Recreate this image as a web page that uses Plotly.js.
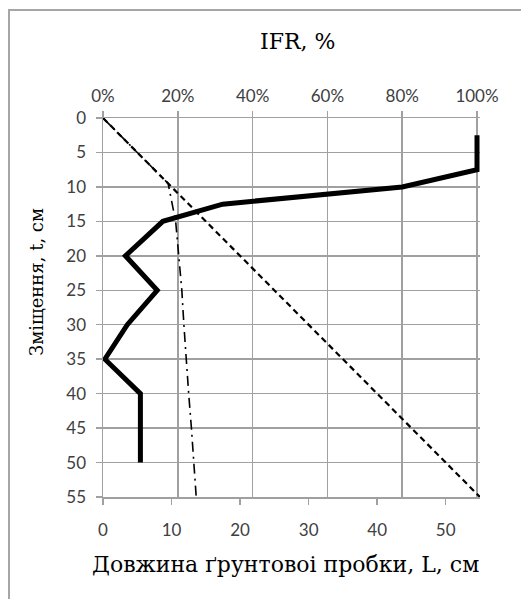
<!DOCTYPE html>
<html>
<head>
<meta charset="utf-8">
<script src="https://cdn.plot.ly/plotly-3.0.1.min.js"></script>
<style>
html,body{margin:0;padding:0;background:#fff;}
#frame{position:absolute;left:8px;top:9px;width:530px;height:600px;border-left:2px solid #a6a6a6;border-top:2px solid #a6a6a6;}
#chart{position:absolute;left:0;top:0;width:521px;height:599px;}
</style>
</head>
<body>
<div id="frame"></div>
<div id="chart"></div>
<script>
// IFR series (top axis, fraction)
const ifrT = [2.5, 5, 7.5, 10, 12.5, 15, 20, 25, 30, 35, 40, 45, 50];
const ifrVal = [1.00, 1.00, 1.00, 0.80, 0.32, 0.16, 0.06, 0.145, 0.065, 0.005, 0.10, 0.10, 0.10];
// Soil plug length L vs displacement t (bottom axis)
const plugT = [0, 5, 9.5, 15, 20, 25, 30, 35, 40, 45, 50, 55];
const plugL = [0, 5, 9.5, 10.6, 11.1, 11.5, 11.8, 12.1, 12.5, 12.9, 13.3, 13.6];
// Full plugging reference line L = t
const refT = [0, 55];
const refL = [0, 55];
const yTicks = [0, 5, 10, 15, 20, 25, 30, 35, 40, 45, 50, 55];
const xTicks = [0, 10, 20, 30, 40, 50];
const topTicks = [0, 0.2, 0.4, 0.6, 0.8, 1.0];

const topTitle = 'IFR, %';
const bottomTitle = 'Довжина ґрунтовоі пробки, L, см';
const leftTitle = 'Зміщення, t, см';

const tickFont = {family: 'Lato, "Liberation Sans", sans-serif', size: 17, color: '#404040'};
const serif = '"DejaVu Serif", "Liberation Serif", serif';

const traces = [
  {x: refL, y: refT, xaxis: 'x', yaxis: 'y', mode: 'lines',
   line: {color: '#000', width: 2.2, dash: '6px,4px'}, hoverinfo: 'skip'},
  {x: plugL, y: plugT, xaxis: 'x', yaxis: 'y', mode: 'lines',
   line: {color: '#000', width: 1.6, dash: '10px,5px,2px,5px'}},
  {x: ifrVal, y: ifrT, xaxis: 'x2', yaxis: 'y', mode: 'lines',
   line: {color: '#000', width: 5}}
];

const axisCommon = {
  zeroline: false, showline: true, linecolor: '#a0a0a0', linewidth: 1.5,
  ticks: 'outside', ticklen: 6, tickcolor: '#a0a0a0', tickwidth: 1.5,
  tickfont: tickFont
};

const layout = {
  width: 521, height: 599,
  margin: {l: 103, r: 41, t: 118, b: 102},
  paper_bgcolor: 'rgba(0,0,0,0)', plot_bgcolor: 'rgba(0,0,0,0)',
  showlegend: false,
  xaxis: Object.assign({}, axisCommon, {
    range: [0, 55], tickvals: xTicks, ticktext: xTicks.map(String),
    showgrid: false, ticklabelstandoff: 11
  }),
  xaxis2: Object.assign({}, axisCommon, {
    overlaying: 'x', side: 'top', anchor: 'y',
    range: [0, 1.008], tickvals: topTicks, ticktext: topTicks.map(v => Math.round(v*100) + '%'),
    showgrid: true, gridcolor: '#a0a0a0', gridwidth: 1.5, ticklabelstandoff: 2
  }),
  yaxis: Object.assign({}, axisCommon, {
    range: [55, 0], tickvals: yTicks, ticktext: yTicks.map(String),
    showgrid: true, gridcolor: '#a0a0a0', gridwidth: 1.5, ticklabelstandoff: 6
  }),
  annotations: [
    {text: topTitle, xref: 'paper', yref: 'paper', x: 0.517, y: 1.203,
     xanchor: 'center', yanchor: 'middle', showarrow: false,
     font: {family: serif, size: 22, color: '#000'}},
    {text: bottomTitle, xref: 'paper', yref: 'paper', x: 0.483, y: -0.179,
     xanchor: 'center', yanchor: 'middle', showarrow: false,
     font: {family: serif, size: 22, color: '#000'}},
    {text: leftTitle, xref: 'paper', yref: 'paper', x: -0.178, y: 0.567,
     xanchor: 'center', yanchor: 'middle', showarrow: false, textangle: -90,
     font: {family: serif, size: 18, color: '#000'}}
  ]
};

Plotly.newPlot('chart', traces, layout, {displayModeBar: false, staticPlot: true});
</script>
</body>
</html>
